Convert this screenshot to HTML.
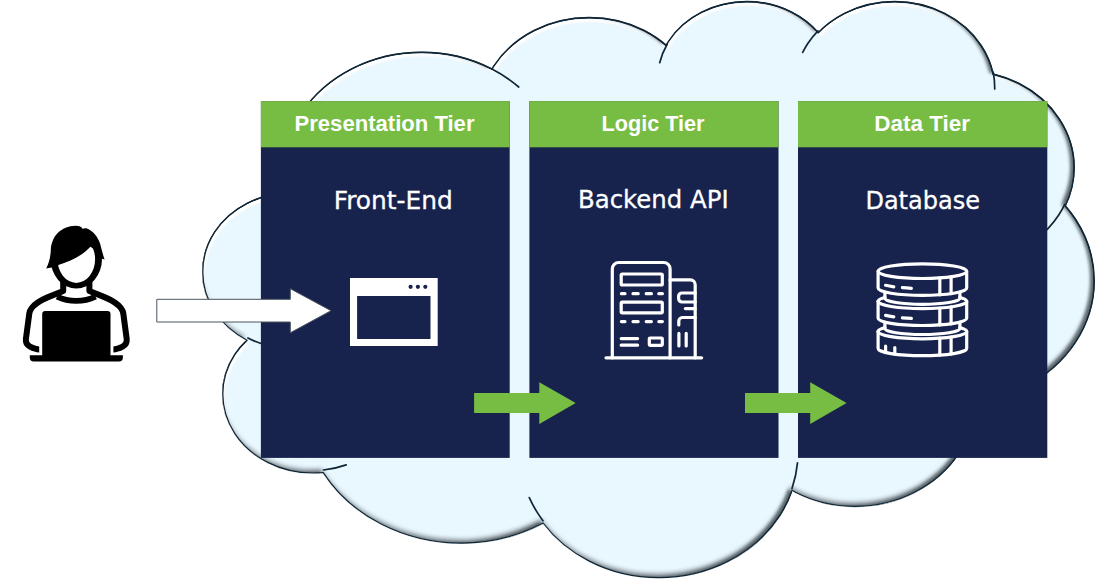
<!DOCTYPE html>
<html><head><meta charset="utf-8"><title>Three tier architecture</title>
<style>html,body{margin:0;padding:0;background:#fff}body{width:1096px;height:580px;overflow:hidden}svg{display:block}</style>
</head><body>
<svg width="1096" height="580" viewBox="0 0 1096 580">
<defs>
<filter id="bevel" filterUnits="userSpaceOnUse" x="150" y="-50" width="1000" height="680" color-interpolation-filters="sRGB">
<feComponentTransfer in="SourceAlpha" result="inv"><feFuncA type="table" tableValues="1 0"/></feComponentTransfer>
<feOffset in="inv" dx="2.2" dy="3.6" result="ho"/>
<feGaussianBlur in="ho" stdDeviation="1.0" result="hb"/>
<feFlood flood-color="#ffffff" flood-opacity="1" result="hf"/>
<feComposite in="hf" in2="hb" operator="in" result="h1"/>
<feComposite in="h1" in2="SourceAlpha" operator="in" result="hl"/>
<feOffset in="inv" dx="-2.4" dy="-4.4" result="so"/>
<feGaussianBlur in="so" stdDeviation="2.2" result="sb"/>
<feFlood flood-color="#2a3238" flood-opacity="0.5" result="sf"/>
<feComposite in="sf" in2="sb" operator="in" result="s1"/>
<feComposite in="s1" in2="SourceAlpha" operator="in" result="sh"/>
<feOffset in="inv" dx="-4.0" dy="-1.0" result="to"/>
<feGaussianBlur in="to" stdDeviation="1.8" result="tb"/>
<feFlood flood-color="#2a3238" flood-opacity="0.55" result="tf"/>
<feComposite in="tf" in2="tb" operator="in" result="t1"/>
<feComposite in="t1" in2="SourceAlpha" operator="in" result="th"/>
<feMerge><feMergeNode in="SourceGraphic"/><feMergeNode in="hl"/><feMergeNode in="sh"/><feMergeNode in="th"/></feMerge>
</filter>
</defs>
<path d="M 283.9,191.3 L 283.9,191.3 C 283.0,185.8 282.6,180.3 282.6,174.8 282.6,153.3 289.1,132.2 301.2,113.5 313.5,94.9 331.0,79.4 352.2,68.7 373.3,57.9 397.3,52.3 421.8,52.3 446.2,52.3 470.1,57.9 491.3,68.7 491.6,68.8 491.9,69.0 492.1,69.1 L 492.1,69.1 C 492.7,68.1 493.3,67.1 493.9,66.1 503.6,51.4 517.5,39.1 534.2,30.6 550.9,22.1 569.8,17.7 589.1,17.7 608.4,17.7 627.4,22.1 644.1,30.6 652.2,34.8 659.6,39.7 666.2,45.5 L 666.2,45.5 C 667.0,44.1 667.9,42.6 668.8,41.2 676.7,29.2 688.1,19.2 701.7,12.3 715.4,5.3 730.9,1.6 746.7,1.6 762.5,1.6 778.0,5.3 791.7,12.3 802.0,17.5 811.0,24.5 818.3,32.8 L 818.3,32.8 C 825.7,25.1 834.6,18.6 844.5,13.5 859.7,5.8 877.0,1.7 894.6,1.7 912.2,1.7 929.4,5.8 944.6,13.5 959.8,21.2 972.5,32.4 981.2,45.7 987.0,54.5 991.0,64.1 993.1,74.1 L 993.1,74.1 C 1002.2,76.3 1011.0,79.5 1019.1,83.6 1035.8,92.1 1049.7,104.4 1059.3,119.1 1069.0,133.9 1074.1,150.6 1074.1,167.6 1074.1,180.7 1071.1,193.7 1065.2,205.8 L 1065.2,205.8 C 1068.9,210.1 1072.3,214.5 1075.4,219.2 1087.6,237.9 1094.1,259.1 1094.1,280.7 1094.1,302.2 1087.6,323.4 1075.4,342.1 1063.1,360.8 1045.5,376.3 1024.3,387.1 1008.8,394.9 991.8,400.1 974.3,402.3 L 974.3,402.3 C 974.1,420.4 968.5,438.2 958.3,453.9 947.8,469.8 932.8,483.0 914.6,492.2 896.5,501.5 876.0,506.3 855.0,506.3 834.1,506.3 813.6,501.5 795.4,492.2 794.2,491.6 793.1,491.0 791.9,490.4 L 791.9,490.4 C 788.8,499.4 784.6,508.0 779.2,516.2 767.0,534.8 749.5,550.4 728.3,561.1 707.1,571.9 683.2,577.6 658.8,577.6 634.4,577.6 610.3,571.9 589.2,561.1 570.7,551.7 554.9,538.7 543.1,523.0 L 543.1,523.0 C 542.3,523.5 541.5,523.9 540.7,524.3 516.5,536.6 489.0,543.2 461.2,543.2 433.2,543.2 405.8,536.6 381.6,524.3 357.4,512.0 337.3,494.3 323.4,472.9 323.3,472.8 323.2,472.6 323.1,472.5 L 323.1,472.5 C 319.6,472.9 316.1,473.0 312.6,473.0 296.8,473.0 281.4,469.4 267.7,462.4 254.0,455.5 242.7,445.6 234.8,433.6 227.0,421.6 222.8,408.0 222.8,394.1 222.8,380.3 227.0,366.7 234.8,354.7 238.2,349.5 242.4,344.7 247.1,340.2 L 247.1,340.2 C 233.6,333.3 222.5,323.4 214.7,311.5 206.9,299.5 202.8,285.8 202.8,271.9 202.8,258.0 206.9,244.3 214.7,232.2 222.6,220.2 233.9,210.2 247.5,203.3 258.4,197.7 270.6,194.2 283.1,193.0 L 283.9,191.3 Z" fill="#e9f7fe" filter="url(#bevel)"/>
<mask id="tl" maskUnits="userSpaceOnUse" x="150" y="-50" width="1000" height="680"><rect x="150" y="-50" width="1000" height="680" fill="#fff"/><path d="M 283.9,191.3 L 283.9,191.3 C 283.0,185.8 282.6,180.3 282.6,174.8 282.6,153.3 289.1,132.2 301.2,113.5 313.5,94.9 331.0,79.4 352.2,68.7 373.3,57.9 397.3,52.3 421.8,52.3 446.2,52.3 470.1,57.9 491.3,68.7 491.6,68.8 491.9,69.0 492.1,69.1 L 492.1,69.1 C 492.7,68.1 493.3,67.1 493.9,66.1 503.6,51.4 517.5,39.1 534.2,30.6 550.9,22.1 569.8,17.7 589.1,17.7 608.4,17.7 627.4,22.1 644.1,30.6 652.2,34.8 659.6,39.7 666.2,45.5 L 666.2,45.5 C 667.0,44.1 667.9,42.6 668.8,41.2 676.7,29.2 688.1,19.2 701.7,12.3 715.4,5.3 730.9,1.6 746.7,1.6 762.5,1.6 778.0,5.3 791.7,12.3 802.0,17.5 811.0,24.5 818.3,32.8 L 818.3,32.8 C 825.7,25.1 834.6,18.6 844.5,13.5 859.7,5.8 877.0,1.7 894.6,1.7 912.2,1.7 929.4,5.8 944.6,13.5 959.8,21.2 972.5,32.4 981.2,45.7 987.0,54.5 991.0,64.1 993.1,74.1 L 993.1,74.1 C 1002.2,76.3 1011.0,79.5 1019.1,83.6 1035.8,92.1 1049.7,104.4 1059.3,119.1 1069.0,133.9 1074.1,150.6 1074.1,167.6 1074.1,180.7 1071.1,193.7 1065.2,205.8 L 1065.2,205.8 C 1068.9,210.1 1072.3,214.5 1075.4,219.2 1087.6,237.9 1094.1,259.1 1094.1,280.7 1094.1,302.2 1087.6,323.4 1075.4,342.1 1063.1,360.8 1045.5,376.3 1024.3,387.1 1008.8,394.9 991.8,400.1 974.3,402.3 L 974.3,402.3 C 974.1,420.4 968.5,438.2 958.3,453.9 947.8,469.8 932.8,483.0 914.6,492.2 896.5,501.5 876.0,506.3 855.0,506.3 834.1,506.3 813.6,501.5 795.4,492.2 794.2,491.6 793.1,491.0 791.9,490.4 L 791.9,490.4 C 788.8,499.4 784.6,508.0 779.2,516.2 767.0,534.8 749.5,550.4 728.3,561.1 707.1,571.9 683.2,577.6 658.8,577.6 634.4,577.6 610.3,571.9 589.2,561.1 570.7,551.7 554.9,538.7 543.1,523.0 L 543.1,523.0 C 542.3,523.5 541.5,523.9 540.7,524.3 516.5,536.6 489.0,543.2 461.2,543.2 433.2,543.2 405.8,536.6 381.6,524.3 357.4,512.0 337.3,494.3 323.4,472.9 323.3,472.8 323.2,472.6 323.1,472.5 L 323.1,472.5 C 319.6,472.9 316.1,473.0 312.6,473.0 296.8,473.0 281.4,469.4 267.7,462.4 254.0,455.5 242.7,445.6 234.8,433.6 227.0,421.6 222.8,408.0 222.8,394.1 222.8,380.3 227.0,366.7 234.8,354.7 238.2,349.5 242.4,344.7 247.1,340.2 L 247.1,340.2 C 233.6,333.3 222.5,323.4 214.7,311.5 206.9,299.5 202.8,285.8 202.8,271.9 202.8,258.0 206.9,244.3 214.7,232.2 222.6,220.2 233.9,210.2 247.5,203.3 258.4,197.7 270.6,194.2 283.1,193.0 L 283.9,191.3 Z" fill="#000" transform="translate(-0.6,1.3)"/></mask>
<path d="M 283.9,191.3 L 283.9,191.3 C 283.0,185.8 282.6,180.3 282.6,174.8 282.6,153.3 289.1,132.2 301.2,113.5 313.5,94.9 331.0,79.4 352.2,68.7 373.3,57.9 397.3,52.3 421.8,52.3 446.2,52.3 470.1,57.9 491.3,68.7 491.6,68.8 491.9,69.0 492.1,69.1 L 492.1,69.1 C 492.7,68.1 493.3,67.1 493.9,66.1 503.6,51.4 517.5,39.1 534.2,30.6 550.9,22.1 569.8,17.7 589.1,17.7 608.4,17.7 627.4,22.1 644.1,30.6 652.2,34.8 659.6,39.7 666.2,45.5 L 666.2,45.5 C 667.0,44.1 667.9,42.6 668.8,41.2 676.7,29.2 688.1,19.2 701.7,12.3 715.4,5.3 730.9,1.6 746.7,1.6 762.5,1.6 778.0,5.3 791.7,12.3 802.0,17.5 811.0,24.5 818.3,32.8 L 818.3,32.8 C 825.7,25.1 834.6,18.6 844.5,13.5 859.7,5.8 877.0,1.7 894.6,1.7 912.2,1.7 929.4,5.8 944.6,13.5 959.8,21.2 972.5,32.4 981.2,45.7 987.0,54.5 991.0,64.1 993.1,74.1 L 993.1,74.1 C 1002.2,76.3 1011.0,79.5 1019.1,83.6 1035.8,92.1 1049.7,104.4 1059.3,119.1 1069.0,133.9 1074.1,150.6 1074.1,167.6 1074.1,180.7 1071.1,193.7 1065.2,205.8 L 1065.2,205.8 C 1068.9,210.1 1072.3,214.5 1075.4,219.2 1087.6,237.9 1094.1,259.1 1094.1,280.7 1094.1,302.2 1087.6,323.4 1075.4,342.1 1063.1,360.8 1045.5,376.3 1024.3,387.1 1008.8,394.9 991.8,400.1 974.3,402.3 L 974.3,402.3 C 974.1,420.4 968.5,438.2 958.3,453.9 947.8,469.8 932.8,483.0 914.6,492.2 896.5,501.5 876.0,506.3 855.0,506.3 834.1,506.3 813.6,501.5 795.4,492.2 794.2,491.6 793.1,491.0 791.9,490.4 L 791.9,490.4 C 788.8,499.4 784.6,508.0 779.2,516.2 767.0,534.8 749.5,550.4 728.3,561.1 707.1,571.9 683.2,577.6 658.8,577.6 634.4,577.6 610.3,571.9 589.2,561.1 570.7,551.7 554.9,538.7 543.1,523.0 L 543.1,523.0 C 542.3,523.5 541.5,523.9 540.7,524.3 516.5,536.6 489.0,543.2 461.2,543.2 433.2,543.2 405.8,536.6 381.6,524.3 357.4,512.0 337.3,494.3 323.4,472.9 323.3,472.8 323.2,472.6 323.1,472.5 L 323.1,472.5 C 319.6,472.9 316.1,473.0 312.6,473.0 296.8,473.0 281.4,469.4 267.7,462.4 254.0,455.5 242.7,445.6 234.8,433.6 227.0,421.6 222.8,408.0 222.8,394.1 222.8,380.3 227.0,366.7 234.8,354.7 238.2,349.5 242.4,344.7 247.1,340.2 L 247.1,340.2 C 233.6,333.3 222.5,323.4 214.7,311.5 206.9,299.5 202.8,285.8 202.8,271.9 202.8,258.0 206.9,244.3 214.7,232.2 222.6,220.2 233.9,210.2 247.5,203.3 258.4,197.7 270.6,194.2 283.1,193.0 L 283.9,191.3 Z" fill="none" stroke="#0f2636" stroke-width="1.2" stroke-linejoin="round"/>
<path d="M 283.9,191.3 L 283.9,191.3 C 283.0,185.8 282.6,180.3 282.6,174.8 282.6,153.3 289.1,132.2 301.2,113.5 313.5,94.9 331.0,79.4 352.2,68.7 373.3,57.9 397.3,52.3 421.8,52.3 446.2,52.3 470.1,57.9 491.3,68.7 491.6,68.8 491.9,69.0 492.1,69.1 L 492.1,69.1 C 492.7,68.1 493.3,67.1 493.9,66.1 503.6,51.4 517.5,39.1 534.2,30.6 550.9,22.1 569.8,17.7 589.1,17.7 608.4,17.7 627.4,22.1 644.1,30.6 652.2,34.8 659.6,39.7 666.2,45.5 L 666.2,45.5 C 667.0,44.1 667.9,42.6 668.8,41.2 676.7,29.2 688.1,19.2 701.7,12.3 715.4,5.3 730.9,1.6 746.7,1.6 762.5,1.6 778.0,5.3 791.7,12.3 802.0,17.5 811.0,24.5 818.3,32.8 L 818.3,32.8 C 825.7,25.1 834.6,18.6 844.5,13.5 859.7,5.8 877.0,1.7 894.6,1.7 912.2,1.7 929.4,5.8 944.6,13.5 959.8,21.2 972.5,32.4 981.2,45.7 987.0,54.5 991.0,64.1 993.1,74.1 L 993.1,74.1 C 1002.2,76.3 1011.0,79.5 1019.1,83.6 1035.8,92.1 1049.7,104.4 1059.3,119.1 1069.0,133.9 1074.1,150.6 1074.1,167.6 1074.1,180.7 1071.1,193.7 1065.2,205.8 L 1065.2,205.8 C 1068.9,210.1 1072.3,214.5 1075.4,219.2 1087.6,237.9 1094.1,259.1 1094.1,280.7 1094.1,302.2 1087.6,323.4 1075.4,342.1 1063.1,360.8 1045.5,376.3 1024.3,387.1 1008.8,394.9 991.8,400.1 974.3,402.3 L 974.3,402.3 C 974.1,420.4 968.5,438.2 958.3,453.9 947.8,469.8 932.8,483.0 914.6,492.2 896.5,501.5 876.0,506.3 855.0,506.3 834.1,506.3 813.6,501.5 795.4,492.2 794.2,491.6 793.1,491.0 791.9,490.4 L 791.9,490.4 C 788.8,499.4 784.6,508.0 779.2,516.2 767.0,534.8 749.5,550.4 728.3,561.1 707.1,571.9 683.2,577.6 658.8,577.6 634.4,577.6 610.3,571.9 589.2,561.1 570.7,551.7 554.9,538.7 543.1,523.0 L 543.1,523.0 C 542.3,523.5 541.5,523.9 540.7,524.3 516.5,536.6 489.0,543.2 461.2,543.2 433.2,543.2 405.8,536.6 381.6,524.3 357.4,512.0 337.3,494.3 323.4,472.9 323.3,472.8 323.2,472.6 323.1,472.5 L 323.1,472.5 C 319.6,472.9 316.1,473.0 312.6,473.0 296.8,473.0 281.4,469.4 267.7,462.4 254.0,455.5 242.7,445.6 234.8,433.6 227.0,421.6 222.8,408.0 222.8,394.1 222.8,380.3 227.0,366.7 234.8,354.7 238.2,349.5 242.4,344.7 247.1,340.2 L 247.1,340.2 C 233.6,333.3 222.5,323.4 214.7,311.5 206.9,299.5 202.8,285.8 202.8,271.9 202.8,258.0 206.9,244.3 214.7,232.2 222.6,220.2 233.9,210.2 247.5,203.3 258.4,197.7 270.6,194.2 283.1,193.0 L 283.9,191.3 Z" fill="none" stroke="#0f2636" stroke-width="1.7" stroke-linejoin="round" mask="url(#tl)"/>
<path d="M 300.2,348.6 L 300.2,348.6 C 297.9,348.8 295.6,348.9 293.2,348.9 277.5,348.9 262.1,345.2 248.5,338.3 248.3,338.2 248.2,338.1 248.0,338.0" fill="none" stroke="#0f2636" stroke-width="1.7" stroke-linecap="round"/>
<path d="M 346.2,464.9 L 346.2,464.9 C 338.9,467.5 331.3,469.2 323.4,470.0" fill="none" stroke="#0f2636" stroke-width="1.7" stroke-linecap="round"/>
<path d="M 543.0,520.7 L 543.0,520.7 C 541.3,518.5 539.7,516.2 538.2,513.9 534.8,508.7 531.8,503.2 529.3,497.6" fill="none" stroke="#0f2636" stroke-width="1.7" stroke-linecap="round"/>
<path d="M 797.5,462.9 L 797.5,462.9 C 796.7,471.6 794.8,480.1 792.0,488.4" fill="none" stroke="#0f2636" stroke-width="1.7" stroke-linecap="round"/>
<path d="M 906.8,305.7 L 906.8,305.7 C 909.3,306.8 911.7,307.9 914.2,309.2 932.3,318.4 947.3,331.6 957.8,347.5 968.2,363.5 973.7,381.6 973.7,400.0 973.7,400.2 973.7,400.5 973.7,400.8" fill="none" stroke="#0f2636" stroke-width="1.7" stroke-linecap="round"/>
<path d="M 1064.8,204.4 L 1064.8,204.4 C 1063.0,207.9 1061.1,211.4 1058.9,214.7 1052.7,224.3 1044.5,232.9 1034.9,240.1" fill="none" stroke="#0f2636" stroke-width="1.7" stroke-linecap="round"/>
<path d="M 993.2,72.1 L 993.2,72.1 C 994.2,77.2 994.7,82.4 994.7,87.7 994.7,88.1 994.7,88.5 994.7,88.9" fill="none" stroke="#0f2636" stroke-width="1.7" stroke-linecap="round"/>
<path d="M 802.7,52.4 L 802.7,52.4 C 804.2,49.5 805.8,46.6 807.6,43.8 810.6,39.3 814.1,34.9 818.0,30.9" fill="none" stroke="#0f2636" stroke-width="1.7" stroke-linecap="round"/>
<path d="M 659.7,62.7 L 659.7,62.7 C 661.3,56.2 663.8,50.0 667.2,44.2" fill="none" stroke="#0f2636" stroke-width="1.7" stroke-linecap="round"/>
<path d="M 491.9,69.0 L 491.9,69.0 C 501.7,74.0 510.6,80.0 518.7,87.0" fill="none" stroke="#0f2636" stroke-width="1.7" stroke-linecap="round"/>
<path d="M 288.5,210.2 L 288.5,210.2 C 286.4,204.0 284.8,197.6 283.9,191.3" fill="none" stroke="#0f2636" stroke-width="1.7" stroke-linecap="round"/>
<rect x="260.9" y="101.1" width="248.8" height="356.8" fill="#17234d"/>
<rect x="260.9" y="101.1" width="248.8" height="46.2" fill="#77bd43"/>
<rect x="529.4" y="101.1" width="249.10000000000002" height="356.8" fill="#17234d"/>
<rect x="529.4" y="101.1" width="249.10000000000002" height="46.2" fill="#77bd43"/>
<rect x="798" y="101.1" width="249.29999999999995" height="356.8" fill="#17234d"/>
<rect x="798" y="101.1" width="249.29999999999995" height="46.2" fill="#77bd43"/>
<text x="294.5" y="131.4" textLength="180.0" lengthAdjust="spacingAndGlyphs" font-family="'Liberation Sans', sans-serif" font-weight="bold" font-size="22.5" fill="#fff">Presentation Tier</text>
<text x="601.5" y="131.4" textLength="103.0" lengthAdjust="spacingAndGlyphs" font-family="'Liberation Sans', sans-serif" font-weight="bold" font-size="22.5" fill="#fff">Logic Tier</text>
<text x="874.3" y="131.4" textLength="95.7" lengthAdjust="spacingAndGlyphs" font-family="'Liberation Sans', sans-serif" font-weight="bold" font-size="22.5" fill="#fff">Data Tier</text>
<text x="333.7" y="208.5" textLength="119.2" lengthAdjust="spacingAndGlyphs" font-family="'DejaVu Sans', 'Liberation Sans', sans-serif" font-size="24.4" fill="#fff" stroke="#fff" stroke-width="0.3">Front-End</text>
<text x="578.0" y="208.3" textLength="150.6" lengthAdjust="spacingAndGlyphs" font-family="'DejaVu Sans', 'Liberation Sans', sans-serif" font-size="24.4" fill="#fff" stroke="#fff" stroke-width="0.3">Backend API</text>
<text x="865.4" y="208.5" textLength="114.6" lengthAdjust="spacingAndGlyphs" font-family="'DejaVu Sans', 'Liberation Sans', sans-serif" font-size="24.4" fill="#fff" stroke="#fff" stroke-width="0.3">Database</text>
<path d="M156.8,299.3 H290.3 V288.7 L331,310.7 L290.3,332.8 V322 H156.8 Z" fill="#fff" stroke="#4a5560" stroke-width="1"/>
<path d="M474.1,393 h65.2 v-10.8 l36.4,20.9 l-36.4,21 v-11 h-65.2 Z" fill="#77bd43"/>
<path d="M745,393 h65.2 v-10.8 l36.4,20.9 l-36.4,21 v-11 h-65.2 Z" fill="#77bd43"/>
<path fill-rule="evenodd" fill="#fff" d="M350,278 H437.7 V346 H350 Z M357.1,296 V339 H430.5 V296 Z"/>
<circle cx="410.6" cy="286.8" r="2.1" fill="#17234d"/>
<circle cx="417.9" cy="286.8" r="2.1" fill="#17234d"/>
<circle cx="425.3" cy="286.8" r="2.1" fill="#17234d"/>
<g fill="none" stroke="#000" stroke-width="6" stroke-linejoin="round">
<path d="M63.2,281 L63.2,291 L47.5,297.4 C40,300.6 34.5,304.3 31.5,308.3 C30.1,310 29.6,311.5 29.3,313.5 L25.9,339 C25.5,343 27,345 30,346.6 C33.5,348.4 36,349.4 39.2,349.4"/>
<path d="M89.4,281 L89.4,291 L105.1,297.4 C112.6,300.6 118.1,304.3 121.1,308.3 C122.5,310 123.0,311.5 123.3,313.5 L126.7,339 C127.1,343 125.6,345 122.6,346.6 C119.1,348.4 116.6,349.4 113.4,349.4"/>
<path d="M57,296.6 C69,302.3 83.6,302.3 95.6,296.6" stroke-width="5.6"/>
</g>
<path fill-rule="evenodd" fill="#000" d="M50.6,259 a25.7,29.6 0 1,0 51.4,0 a25.7,29.6 0 1,0 -51.4,0 Z M57.5,259.2 a18.8,23.7 0 1,0 37.6,0 a18.8,23.7 0 1,0 -37.6,0 Z"/>
<path fill="#000" d="M75.6,225.7 C79,225.6 81.5,226.6 82.8,229 C83.6,228.2 85,227.8 87,228.6 C93,231 98,237 100.2,244 C101.6,249 102.6,254 104.6,259.4 L101.2,258.6 C99,254 95,249.5 90.4,246.8 C82,256 70,261.5 57.6,265.2 L51.6,267.4 L46.2,268.4 C49.5,262 50.6,256 50.8,250 C51.5,236 61,226 75.6,225.7 Z"/>
<path fill="#000" d="M45.2,311 H107.5 a3,3 0 0 1 3,3 V355.3 H122.9 V357.5 a4,4 0 0 1 -4,4 H33.8 a4,4 0 0 1 -4,-4 V355.3 H42.2 V314 a3,3 0 0 1 3,-3 Z"/>
<g fill="none" stroke="#fff" stroke-width="3.2" stroke-linecap="round" stroke-linejoin="round">
<path d="M612.3,357.8 V269 a6.5,6.5 0 0 1 6.5,-6.5 H663.6 a6.5,6.5 0 0 1 6.5,6.5 V357.8"/>
<path d="M606,357.8 H701.6"/>
<rect x="621.2" y="274" width="41.1" height="11" rx="1"/>
<rect x="621.2" y="302.2" width="41.1" height="10.6" rx="1"/>
<path d="M621.4,293.7 H625 M633,293.7 H638.2 M646.2,293.7 H651.4 M658.8,293.7 H662.4"/>
<path d="M621.4,321.6 H625 M633,321.6 H638.2 M646.2,321.6 H651.4 M658.8,321.6 H662.4"/>
<path d="M621.2,338.6 H637.6 M621.2,345.2 H637.6"/>
<rect x="649.3" y="338" width="13" height="7.4" rx="0.8"/>
<path d="M670.1,279.9 H690.4 a4.8,4.8 0 0 1 4.8,4.8 V357.8"/>
<path d="M695.2,293 H682 a3.4,3.4 0 0 0 -3.4,3.4 V298.6 a3.4,3.4 0 0 0 3.4,3.4 H695.2"/>
<path d="M685.4,308.6 H695.2"/>
<path d="M695.2,317.5 H682.4 a3.6,3.6 0 0 0 -3.6,3.6 V325"/>
<path d="M678.9,333.4 V346 M686.2,333.4 V346"/>
</g>
<g fill="none" stroke="#fff" stroke-width="3.2" stroke-linecap="round" stroke-linejoin="round">
<ellipse cx="922.4" cy="271.2" rx="44.3" ry="7.3"/>
<path d="M878.1,271.2 V288.1 A44.3,7.3 0 0 0 966.7,288.1 V271.2"/>
<path d="M939.8,277.9 V294.8"/>
<path d="M951.1,276.8 V293.7"/>
<path d="M885.6,285.3 A44.3,7.3 0 0 0 893.8,286.8"/>
<path d="M902.4,287.7 A44.3,7.3 0 0 0 911.4,288.3"/>
<path d="M884.9,292.0 V298.3 A37.5,6.0 0 0 0 959.9,298.3 V292.0"/>
<path d="M878.1,301.3 A44.3,7.3 0 0 0 966.7,301.3"/>
<path d="M878.1,301.3 A44.3,7.3 0 0 1 884.9,297.5"/>
<path d="M966.7,301.3 A44.3,7.3 0 0 0 959.9,297.5"/>
<path d="M878.1,301.3 V318.2 A44.3,7.3 0 0 0 966.7,318.2 V301.3"/>
<path d="M939.8,308.1 V325.0"/>
<path d="M951.1,306.9 V323.8"/>
<path d="M885.6,315.4 A44.3,7.3 0 0 0 893.8,316.9"/>
<path d="M902.4,317.9 A44.3,7.3 0 0 0 911.4,318.4"/>
<path d="M884.9,322.1 V328.5 A37.5,6.0 0 0 0 959.9,328.5 V322.1"/>
<path d="M878.1,331.5 A44.3,7.3 0 0 0 966.7,331.5"/>
<path d="M878.1,331.5 A44.3,7.3 0 0 1 884.9,327.6"/>
<path d="M966.7,331.5 A44.3,7.3 0 0 0 959.9,327.6"/>
<path d="M878.1,331.5 V348.4 A44.3,7.3 0 0 0 966.7,348.4 V331.5"/>
<path d="M939.8,338.2 V355.1"/>
<path d="M951.1,337.1 V354.0"/>
<path d="M885.6,346.0 V352.5"/>
<path d="M894.8,347.6 V354.1"/>
</g>
</svg>
</body></html>
